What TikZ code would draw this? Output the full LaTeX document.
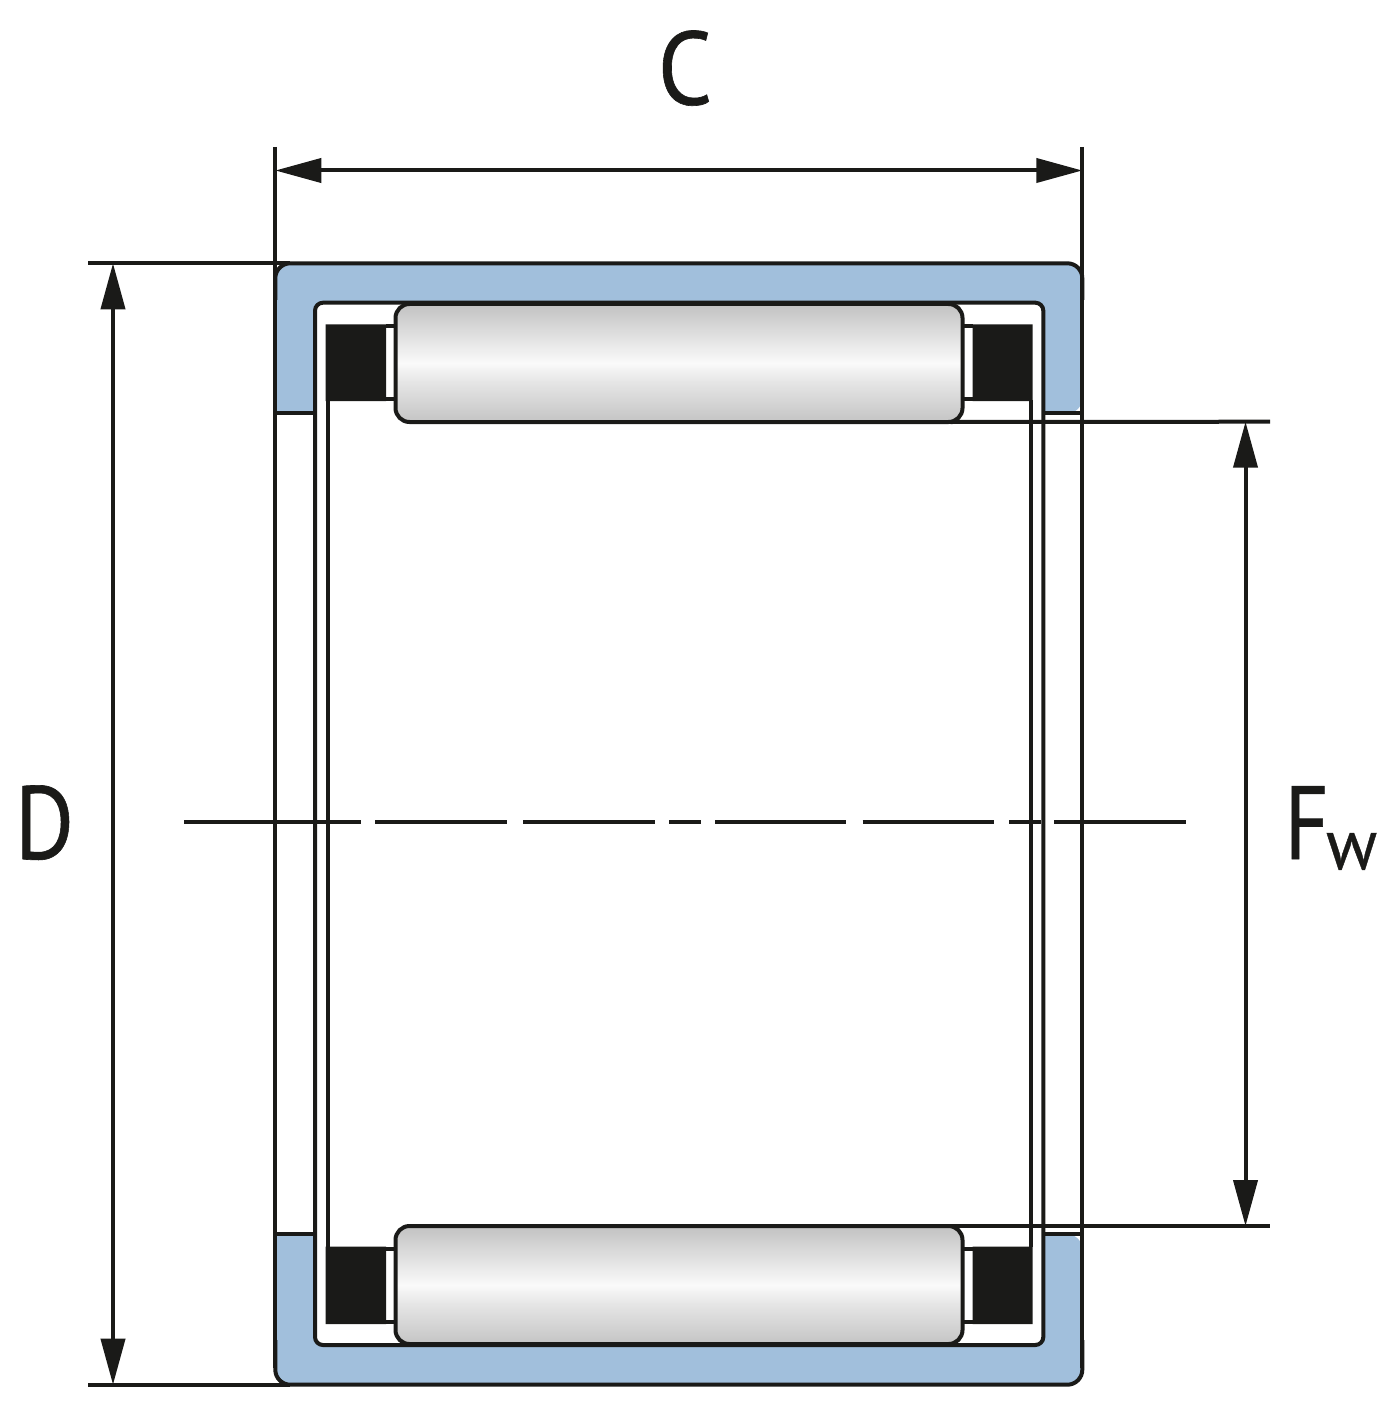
\documentclass[tikz,border=0pt]{standalone}
\usepackage{fontspec}
\setmainfont[FakeBold=0.6]{PT Sans}
\usetikzlibrary{arrows.meta}
\definecolor{ink}{HTML}{1A1A18}
\definecolor{cup}{HTML}{A1BFDC}
\pgfdeclareverticalshading{rollershade}{100bp}{%
 color(0bp)=(white!76!black); color(25bp)=(white!77!black); color(42bp)=(white!90!black);
 color(50bp)=(white!98!black); color(75bp)=(white!76!black); color(100bp)=(white!76!black)}
\tikzset{
 x=1pt,y=-1pt,
 edge/.style={draw=ink,line width=4pt},
 dimline/.style={draw=ink,line width=4pt,{Triangle[length=46pt,width=24pt]}-{Triangle[length=46pt,width=24pt]}},
 roller/.style={edge,rounded corners=14pt,shading=rollershade,minimum width=567pt,minimum height=118pt,inner sep=0pt},
 cage/.style={fill=ink,draw=none},
 label/.style={text=ink,inner sep=0pt,font=\fontsize{104}{104}\selectfont},
}
\begin{document}
\begin{tikzpicture}
\useasboundingbox (0,0) rectangle (1396,1412);
% cups
\fill[cup] [rounded corners=15pt] (275.3,413.3) -- (275.3,263.3) -- (1082.3,263.3) -- (1082.3,413.3) [sharp corners] -- (1043.3,413.3) [rounded corners=8pt] -- (1043.3,302.7) -- (315,302.7) [sharp corners] -- (315,413.3) -- cycle;
\fill[cup] [rounded corners=15pt] (275.3,1234.3) -- (275.3,1384.7) -- (1082.3,1384.7) -- (1082.3,1234.3) [sharp corners] -- (1043.3,1234.3) [rounded corners=8pt] -- (1043.3,1345) -- (315,1345) [sharp corners] -- (315,1234.3) -- cycle;
\draw[edge,rounded corners=15pt] (275.3,300) -- (275.3,263.3) -- (1082.3,263.3) -- (1082.3,300);
\draw[edge,rounded corners=15pt] (275.3,1340) -- (275.3,1384.7) -- (1082.3,1384.7) -- (1082.3,1340);
\draw[edge,rounded corners=8pt] (315,1000) -- (315,1345) -- (1043.3,1345) -- (1043.3,302.7) -- (315,302.7) -- (315,1000);
\draw[edge] (275.3,413.3) -- (315,413.3) (1043.3,413.3) -- (1082.3,413.3);
\draw[edge] (275.3,1234.3) -- (315,1234.3) (1043.3,1234.3) -- (1082.3,1234.3);
% cage
\fill[cage] (325.7,324.3) rectangle (386,401) (972.7,324.3) rectangle (1032.7,401);
\fill[cage] (325.7,1246.7) rectangle (386,1324) (972.7,1246.7) rectangle (1032.7,1324);
\draw[edge] (327.6,400) -- (327.6,1247) (1030.8,400) -- (1030.8,1247);
\draw[edge] (386,326) -- (396,326) (386,399) -- (396,399) (963,326) -- (973,326) (963,399) -- (973,399);
\draw[edge] (386,1248.5) -- (396,1248.5) (386,1321.5) -- (396,1321.5) (963,1248.5) -- (973,1248.5) (963,1321.5) -- (973,1321.5);
% rollers
\node[roller] (top) at (679,363) {};
\node[roller] (bot) at (679,1285) {};
% extension lines
\coordinate (cl) at (275.3,147);
\coordinate (cr) at (1082.3,147);
\coordinate (cl2) at (275.3,1368);
\coordinate (cr2) at (1082.3,1368);
\coordinate (dt) at (88,263.3);
\coordinate (dt2) at (290,263.3);
\coordinate (db) at (88,1384.7);
\coordinate (db2) at (290,1384.7);
\coordinate (ft) at (1270,421.7);
\coordinate (fb) at (1270,1226);
\draw[edge] (cl) -- (cl2) (cr) -- (cr2) (dt) -- (dt2) (db) -- (db2);
\draw[edge] (top.south east) ++(-14,-2) -- (ft);
\draw[edge] (bot.north east) ++(-14,2) -- (fb);
% dimensions
\coordinate (ca) at (275.3,170.5);
\coordinate (cb) at (1082.3,170.5);
\coordinate (da) at (113,263.3);
\coordinate (dbb) at (113,1384.7);
\coordinate (fa) at (1245.5,421.7);
\coordinate (fc) at (1245.5,1226);
\draw[dimline] (ca) -- (cb);
\draw[dimline] (da) -- (dbb);
\draw[dimline] (fa) -- (fc);
% centre line
\draw[edge] (184,822) -- (361,822) (375,822) -- (507,822) (523,822) -- (655,822) (669,822) -- (701,822) (715,822) -- (846,822) (862.5,822) -- (994,822) (1009,822) -- (1041,822) (1054,822) -- (1186,822);
% labels
\node[label,anchor=base,xscale=.92] (lc) at (685,104.5) {C};
\node[label,anchor=base,xscale=.87] (ld) at (44.5,859) {D};
\node[label,anchor=base west,xscale=.82] (lf) at (1284.5,859) {F};
\node[text=ink,inner sep=0pt,anchor=base west,xscale=.96,font=\fontsize{72}{72}\selectfont] (lw) at (1326,869) {w};
\end{tikzpicture}
\end{document}
